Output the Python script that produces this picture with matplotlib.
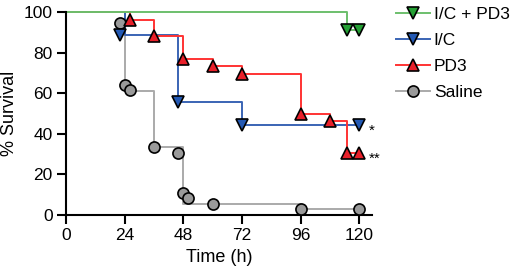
import numpy as np
import matplotlib.pyplot as plt
from matplotlib.lines import Line2D

plt.rcParams['font.family'] = ['Liberation Sans', 'DejaVu Sans']

# step curves (time of drop, survival after drop)
combo_t = [0, 115, 120]
combo_s = [100, 91, 91]
ic_t = [0, 24, 46, 72, 120]
ic_s = [100, 88.9, 55.6, 44.4, 44.4]
pd3_t = [0, 26, 36, 48, 60, 72, 96, 108, 115, 120]
pd3_s = [100, 96.3, 88, 77, 73.2, 69.6, 50, 46.4, 30.5, 30.5]
sal_t = [0, 24, 36, 48, 96, 120]
sal_s = [100, 61, 33.3, 5.5, 2.8, 2.8]

# marker points
combo_mx = [115, 120]
combo_my = [91, 91]
ic_mx = [22, 46, 72, 120]
ic_my = [88.9, 55.6, 44.4, 44.4]
pd3_mx = [26, 36, 48, 60, 72, 96, 108, 115, 120]
pd3_my = [96.3, 88, 77, 73.2, 69.6, 50, 46.4, 30.5, 30.5]
sal_mx = [22, 24, 26, 36, 46, 48, 50, 60, 96, 120]
sal_my = [94.5, 64, 61.5, 33.3, 30.5, 11, 8.3, 5.5, 2.8, 2.8]

labels = ['I/C + PD3', 'I/C', 'PD3', 'Saline']
line_cols = ['#6cbf6c', '#3a64b4', '#ff3333', '#aaaaaa']
fill_cols = ['#24a034', '#2359b4', '#e8202a', '#9a9a9a']
markers = ['v', 'v', '^', 'o']

fig = plt.figure(figsize=(5.17, 2.80), dpi=100)
ax = fig.add_axes([0.1277, 0.232, 0.592, 0.725])

series = [(sal_t, sal_s, sal_mx, sal_my, 3),
          (ic_t, ic_s, ic_mx, ic_my, 1),
          (pd3_t, pd3_s, pd3_mx, pd3_my, 2),
          (combo_t, combo_s, combo_mx, combo_my, 0)]
for t, s, mx, my, i in series:
    ax.step(t, s, where='post', color=line_cols[i], lw=1.4, clip_on=False, zorder=2)
for t, s, mx, my, i in series:
    ax.plot(mx, my, ls='none', marker=markers[i], ms=8, mfc=fill_cols[i],
            mec='black', mew=1.2, clip_on=False, zorder=3)

ax.annotate('*', xy=(120, 44.4), xytext=(7, -4), textcoords='offset points',
            va='center', ha='left', fontsize=11)
ax.annotate('**', xy=(120, 30.5), xytext=(7, -4), textcoords='offset points',
            va='center', ha='left', fontsize=11)

ax.set_xlim(0, 125.3)
ax.set_ylim(0, 100)
ax.set_xticks([0, 24, 48, 72, 96, 120])
ax.set_yticks([0, 20, 40, 60, 80, 100])
for sp in ['top', 'right']:
    ax.spines[sp].set_visible(False)
for sp in ['left', 'bottom']:
    ax.spines[sp].set_linewidth(1.5)
ax.tick_params(width=1.5, length=6.5, labelsize=12.5, pad=3)
ax.set_xlabel('Time (h)', fontsize=13, labelpad=4)
ax.set_ylabel('% Survival', fontsize=13, labelpad=4)

handles = [Line2D([], [], color=line_cols[i], lw=1.4, marker=markers[i], ms=8,
                  mfc=fill_cols[i], mec='black', mew=1.2) for i in range(4)]
fig.legend(handles, labels, loc='upper left', bbox_to_anchor=(0.765, 0.975),
           frameon=False, fontsize=12.5, handlelength=2.0, handletextpad=0.2,
           labelspacing=0.62, borderpad=0, borderaxespad=0)

fig.savefig('out.png', dpi=100)
